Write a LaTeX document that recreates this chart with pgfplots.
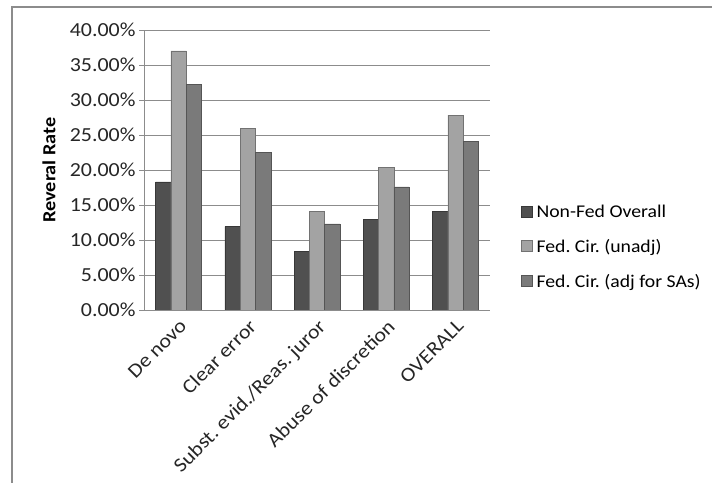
\documentclass[border=0pt]{standalone}
\usepackage{fontspec}
\setmainfont{Carlito}[FakeStretch=1.1]
\usepackage{pgfplots}
\pgfplotsset{compat=1.18}
\frenchspacing

\definecolor{nonfed}{HTML}{505050}
\definecolor{unadj}{HTML}{A3A3A3}
\definecolor{adjsa}{HTML}{7A7A7A}
\definecolor{gridgray}{HTML}{8C8C8C}

\begin{document}
\begin{tikzpicture}[x=1bp,y=1bp]
\useasboundingbox (0,0) rectangle (712,483);
\draw[gridgray, line width=2bp] (12,-5) -- (12,476) -- (720,476);
\begin{axis}[
    at={(144bp,173bp)}, anchor=south west,
    scale only axis,
    width=346bp, height=280bp,
    ybar=0pt, bar width=15.3bp,
    xmin=-0.5, xmax=4.5,
    ymin=0, ymax=40,
    ytick={0,5,...,40},
    xtick={0,...,4},
    xticklabels={De novo,Clear error,Subst. evid./Reas. juror,Abuse of discretion,OVERALL},
    x tick style={draw=none},
    y tick style={gridgray, line width=0.8bp},
    major tick length=5bp,
    tick align=outside,
    axis x line*=bottom, axis y line*=left,
    axis line style={gridgray, line width=0.8bp},
    ymajorgrids,
    grid style={gridgray, line width=0.8bp},
    yticklabel={\pgfmathprintnumber[fixed,fixed zerofill,precision=2]{\tick}\%},
    /pgf/number format/assume math mode=true,
    tick label style={font=\fontsize{20}{22}\selectfont, text=black!85},
    x tick label style={rotate=45, anchor=north east, inner sep=2bp},
    ylabel={Reveral Rate},
    ylabel style={at={(axis description cs:-0.275,0.5)}, anchor=center, font=\fontsize{18.5}{20}\selectfont\bfseries},
    legend style={at={(1.081,0.225)}, anchor=west, draw=none, fill=none,
        font=\fontsize{18}{20}\selectfont, row sep=16bp, cells={anchor=west},
        /tikz/every odd column/.append style={column sep=2bp}},
    legend image code/.code={\draw[#1] (0bp,-5bp) rectangle (11bp,6bp);},
]
\addplot[fill=nonfed, draw=nonfed!70!black] coordinates {(0,18.3) (1,11.9) (2,8.4) (3,12.9) (4,14.1)};
\addplot[fill=unadj, draw=unadj!70!black] coordinates {(0,37.0) (1,25.95) (2,14.05) (3,20.4) (4,27.85)};
\addplot[fill=adjsa, draw=adjsa!70!black] coordinates {(0,32.2) (1,22.5) (2,12.3) (3,17.6) (4,24.1)};
\legend{Non-Fed Overall, Fed. Cir. (unadj), Fed. Cir. (adj for SAs)}
\end{axis}
\end{tikzpicture}
\end{document}
